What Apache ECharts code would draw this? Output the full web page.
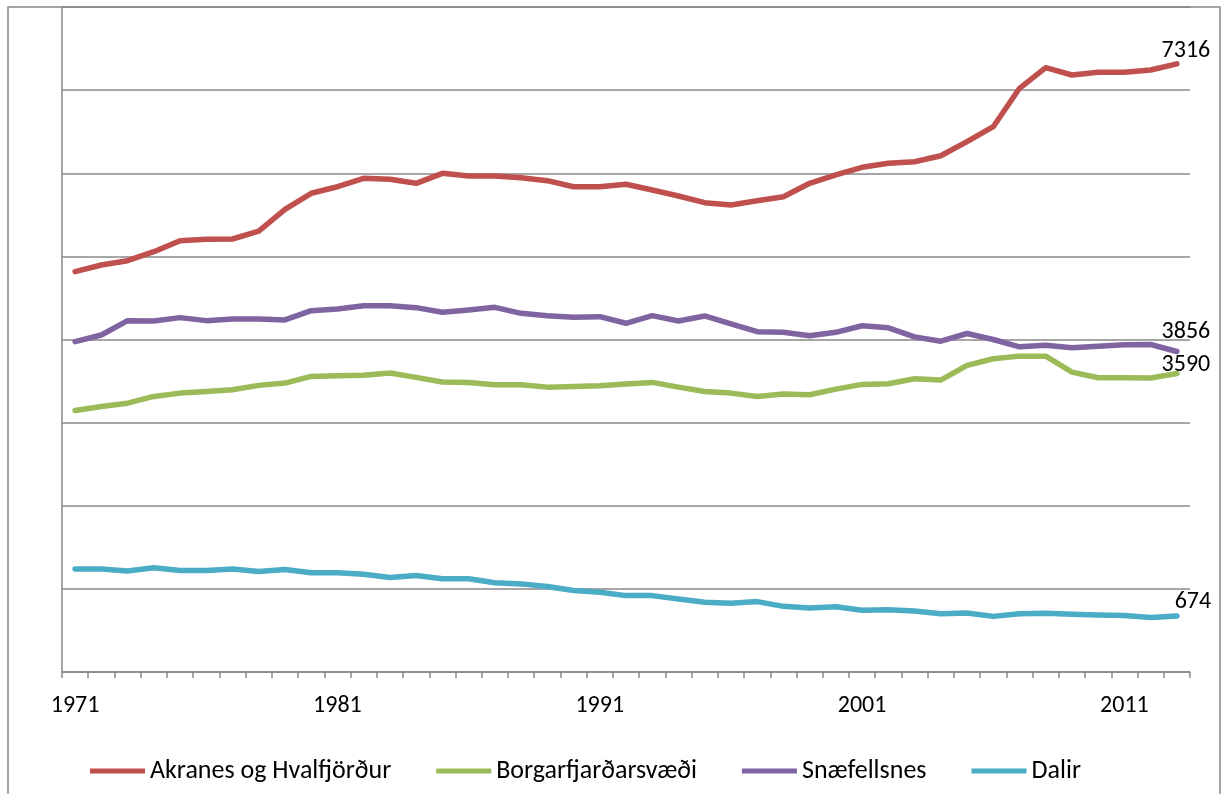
<!DOCTYPE html>
<html>
<head>
<meta charset="utf-8">
<script src="https://cdn.jsdelivr.net/npm/echarts@6/dist/echarts.min.js"></script>
<style>
html,body{margin:0;padding:0;background:#fff;}
#chart{width:1222px;height:794px;}
</style>
</head>
<body>
<div id="chart"></div>
<script>
const years = [];
for (let y = 1971; y <= 2013; y++) years.push(String(y));

const seriesNames = ['Akranes og Hvalfjörður', 'Borgarfjarðarsvæði', 'Snæfellsnes', 'Dalir'];

const akranes = [4816,4896,4948,5056,5189,5205,5209,5305,5566,5759,
                 5838,5939,5927,5879,5999,5967,5967,5947,5911,5838,
                 5838,5867,5799,5726,5646,5618,5670,5718,5879,5979,
                 6072,6120,6139,6211,6380,6560,7022,7270,7182,7214,
                 7214,7242,7316];
const borgar = [3145,3194,3234,3315,3355,3375,3395,3448,3476,3556,
                3565,3569,3597,3544,3488,3484,3456,3456,3427,3435,
                3444,3464,3484,3427,3375,3355,3315,3343,3335,3403,
                3460,3468,3528,3512,3688,3768,3800,3800,3608,3540,
                3540,3536,3590];
const snaef = [3974,4054,4227,4223,4263,4227,4247,4247,4235,4347,
               4367,4407,4407,4383,4327,4355,4387,4315,4287,4267,
               4275,4195,4287,4223,4283,4187,4094,4086,4046,4086,
               4165,4140,4032,3980,4072,4000,3912,3932,3900,3920,
               3936,3940,3856];
const dalir = [1238,1238,1214,1254,1222,1222,1238,1210,1234,1194,
               1194,1177,1137,1161,1121,1121,1073,1060,1028,980,
               960,919,919,879,839,827,847,790,770,786,
               742,750,734,702,710,669,702,706,694,685,
               681,657,674];

const colors = ['#C0504D', '#9BBB59', '#8064A2', '#4BACC6'];
const labelOffsets = [[9, 4], [9, 8], [9, -2], [16, 3]];
const FONT = 'Carlito, Lato, sans-serif';

function withEndLabel(arr, off) {
  return arr.map((v, i) => {
    if (i !== arr.length - 1) return v;
    return {
      value: v,
      label: {
        show: true, position: 'top', offset: off,
        formatter: String(v), color: '#000',
        fontFamily: FONT, fontSize: 24
      }
    };
  });
}

const dataSets = [akranes, borgar, snaef, dalir];

const chart = echarts.init(document.getElementById('chart'), null, {renderer: 'canvas'});
chart.setOption({
  backgroundColor: '#fff',
  animation: false,
  color: colors,
  textStyle: {fontFamily: FONT},
  graphic: [{
    type: 'rect', silent: true, z: 100,
    shape: {x: 8, y: 7, width: 1212, height: 900},
    style: {fill: 'none', stroke: '#888', lineWidth: 1.5}
  }],
  grid: {left: 62, right: 32, top: 7, bottom: 122, containLabel: false},
  legend: {
    left: 85, top: 753,
    icon: 'rect', itemWidth: 55, itemHeight: 5, itemGap: 45,
    textStyle: {fontFamily: FONT, fontSize: 26, color: '#000'},
    data: seriesNames
  },
  xAxis: {
    type: 'category', data: years, boundaryGap: true,
    axisLine: {lineStyle: {color: '#888', width: 1.5}},
    axisTick: {show: true, interval: 0, length: 6, lineStyle: {color: '#888', width: 1.5}},
    axisLabel: {interval: 9, margin: 22, color: '#000', fontFamily: FONT, fontSize: 24}
  },
  yAxis: {
    type: 'value', min: 0, max: 8000, interval: 1000,
    axisLabel: {show: false},
    axisTick: {show: false},
    axisLine: {show: true, lineStyle: {color: '#888', width: 1.5}},
    splitLine: {lineStyle: {color: '#888', width: 1.5}}
  },
  series: dataSets.map((arr, k) => ({
    name: seriesNames[k], type: 'line',
    data: withEndLabel(arr, labelOffsets[k]),
    showSymbol: true, symbol: 'circle', symbolSize: 0,
    lineStyle: {width: 5.5, color: colors[k], cap: 'round', join: 'round'},
    itemStyle: {color: colors[k]},
    emphasis: {disabled: true}
  }))
});
</script>
</body>
</html>
